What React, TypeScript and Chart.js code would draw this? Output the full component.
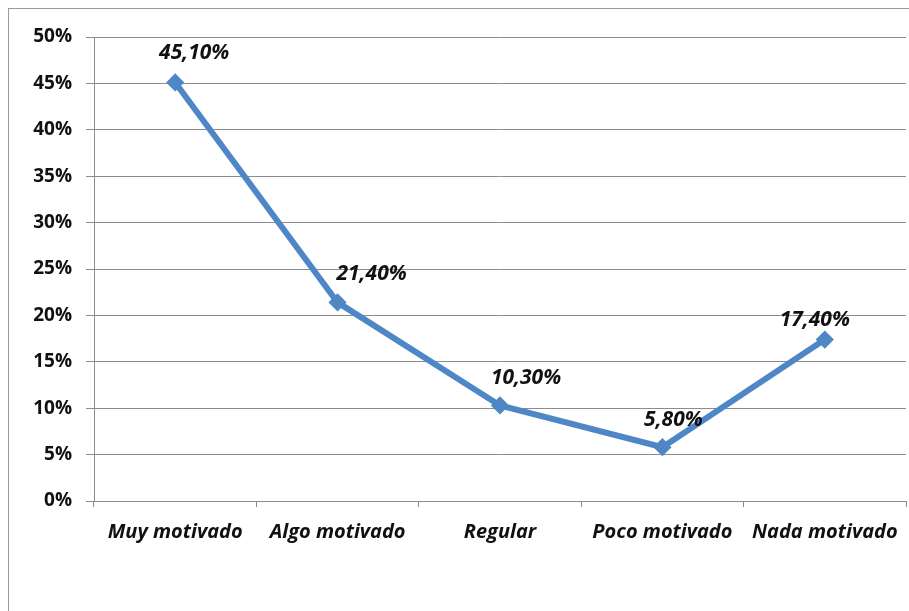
import React, { useEffect, useRef } from "react";
import { Chart, registerables } from "chart.js";

Chart.register(...registerables);

const categories: string[] = ["Muy motivado", "Algo motivado", "Regular", "Poco motivado", "Nada motivado"];
const values: number[] = [45.1, 21.4, 10.3, 5.8, 17.4];
const yTicks: number[] = [0, 5, 10, 15, 20, 25, 30, 35, 40, 45, 50];

// nudges for each value label, relative to its point (dx, dy)
const labelNudges: [number, number][] = [
  [19, -29],
  [34, -28],
  [26, -27],
  [11, -27],
  [-10, -20],
];

const FONT = "'Open Sans', Lato, sans-serif";
const LINE_BLUE = "#4f87c6";
const GRID = "#8c8c8c";

const formatPct = (v: number) => v.toFixed(2).replace(".", ",") + "%";

const valueLabels = {
  id: "valueLabels",
  afterDatasetsDraw(chart: any) {
    const { ctx } = chart;
    const meta = chart.getDatasetMeta(0);
    ctx.save();
    ctx.font = `italic bold 21px ${FONT}`;
    ctx.fillStyle = "#111";
    ctx.textAlign = "center";
    ctx.textBaseline = "middle";
    meta.data.forEach((pt: any, i: number) => {
      const [dx, dy] = labelNudges[i] || [0, -25];
      ctx.fillText(formatPct(values[i]), pt.x + dx, pt.y + dy);
    });
    ctx.restore();
  },
};

export default function App() {
  const canvasRef = useRef<HTMLCanvasElement | null>(null);

  useEffect(() => {
    if (!canvasRef.current) return;
    const chart = new Chart(canvasRef.current, {
      type: "line",
      data: {
        labels: categories,
        datasets: [
          {
            data: values,
            borderColor: LINE_BLUE,
            backgroundColor: LINE_BLUE,
            borderWidth: 6,
            pointStyle: "rectRot",
            pointRadius: 7,
            pointBorderWidth: 3,
            pointHoverRadius: 7,
            tension: 0,
          },
        ],
      },
      options: {
        animation: false,
        responsive: false,
        layout: { autoPadding: false, padding: { left: 0, top: 37, right: 3, bottom: 0 } },
        plugins: {
          legend: { display: false },
          tooltip: { enabled: false },
        },
        scales: {
          x: {
            offset: true,
            grid: {
              offset: true,
              drawOnChartArea: false,
              color: GRID,
              tickLength: 6,
            },
            border: { color: GRID, width: 1 },
            ticks: {
              color: "#111",
              padding: 13,
              maxRotation: 0,
              font: { family: FONT, size: 20, weight: "bold", style: "italic" },
            },
            afterFit(scale: any) {
              scale.height = 110;
              scale.paddingLeft = 0;
              scale.paddingRight = 0;
            },
          },
          y: {
            min: 0,
            max: 50,
            afterBuildTicks(scale: any) {
              scale.ticks = yTicks.map((v) => ({ value: v }));
            },
            grid: { color: GRID, tickLength: 8 },
            border: { color: GRID, width: 1 },
            ticks: {
              color: "#111",
              padding: 14,
              font: { family: FONT, size: 19, weight: "bold" },
              callback: (v: any) => `${v}%`,
            },
            afterFit(scale: any) {
              scale.width = 94;
            },
          },
        },
      },
      plugins: [valueLabels],
    });
    return () => chart.destroy();
  }, []);

  return (
    <div style={{ position: "fixed", left: 0, top: 0, width: 909, height: 611, background: "#fff", overflow: "hidden" }}>
      <div
        style={{
          position: "absolute",
          left: 8,
          top: 8,
          right: 0,
          bottom: 0,
          borderTop: "1px solid #9a9a9a",
          borderLeft: "1px solid #9a9a9a",
        }}
      />
      <canvas ref={canvasRef} width={909} height={611} style={{ position: "absolute", left: 0, top: 0 }} />
    </div>
  );
}
